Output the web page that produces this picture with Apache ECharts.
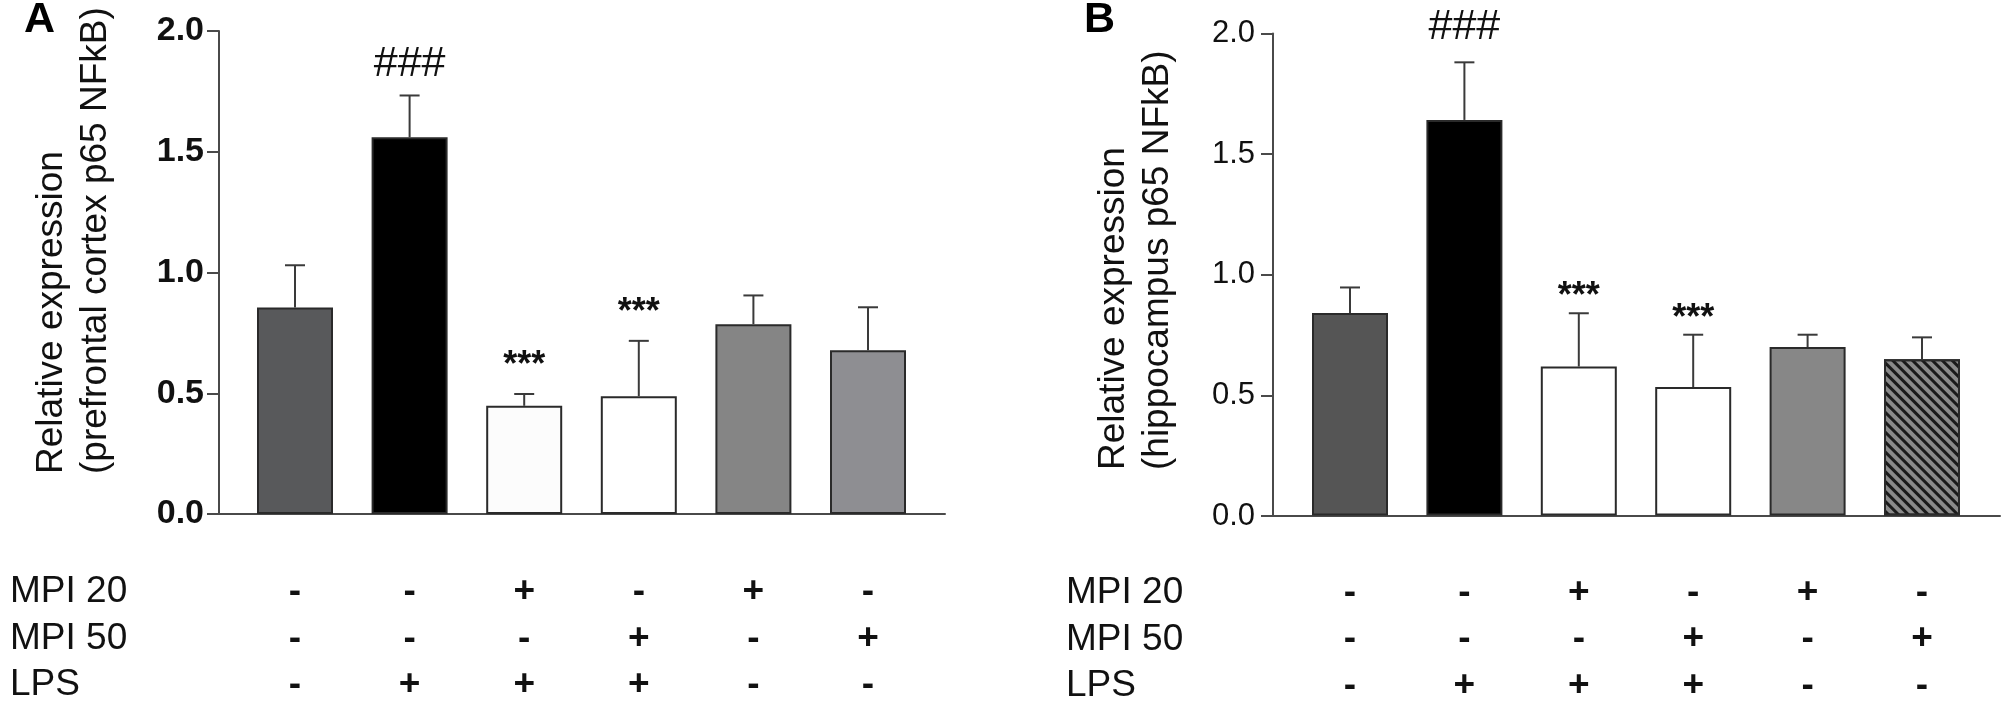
<!DOCTYPE html>
<html style="height: 100%">
<head>
    <meta charset="utf-8">
    <script type="text/javascript" src="https://cdn.jsdelivr.net/npm/echarts@6/dist/echarts.min.js"></script>
</head>
<body style="height: 100%; margin: 0; background: #fff">
<div id="container" style="height: 709px; width: 2002px"></div>
<script type="text/javascript">
    // groups, in plotting order
    var groups = ['Control', 'LPS', 'MPI 20 + LPS', 'MPI 50 + LPS', 'MPI 20', 'MPI 50'];

    // panel A: prefrontal cortex
    var meanA = [0.855, 1.560, 0.448, 0.488, 0.786, 0.678];
    var semA = [0.175, 0.173, 0.049, 0.229, 0.119, 0.178];
    var marksA = ['', '###', '***', '***', '', ''];

    // panel B: hippocampus
    var meanB = [0.840, 1.641, 0.618, 0.533, 0.699, 0.648];
    var semB = [0.106, 0.239, 0.221, 0.217, 0.051, 0.091];
    var marksB = ['', '###', '***', '***', '', ''];

    // treatment table under the bars
    var rowNames = ['MPI 20', 'MPI 50', 'LPS'];
    var mpi20 = ['-', '-', '+', '-', '+', '-'];
    var mpi50 = ['-', '-', '-', '+', '-', '+'];
    var lps = ['-', '+', '+', '+', '-', '-'];

    var yTicks = [0, 0.5, 1.0, 1.5, 2.0];

    var FONT = '"Liberation Sans", Arial, sans-serif';
    var AXIS = '#4a4a4a';
    var INK = '#111111';
    var TITLE_SIZE = 37;

    var colorsA = ['#58595b', '#000000', '#fcfcfc', '#ffffff', '#858585', '#8e8e92'];
    var colorsB = ['#555555', '#000000', '#ffffff', '#ffffff', '#878787', '#8a8a8a'];
    var hatch = {
        symbol: 'rect',
        symbolSize: 1,
        color: '#1a1a1a',
        dashArrayX: [1, 0],
        dashArrayY: [3, 3.4],
        rotation: Math.PI / 4
    };

    // width of a text line, so both title lines can start at the same point
    var measure = document.createElement('canvas').getContext('2d');
    function textWidth(s, size) {
        measure.font = size + 'px ' + FONT;
        return Math.ceil(measure.measureText(s).width);
    }

    var grid = [], xAxis = [], yAxis = [], series = [], graphic = [];

    function addPanel(p) {
        var g = grid.length;
        // grid for the bars, and a wider one only for the axis lines
        grid.push({left: p.barLeft, top: p.top, width: p.pitch * groups.length, height: p.height});
        grid.push({left: p.axisLeft, top: p.top, width: p.axisWidth, height: p.height});

        var xb = xAxis.length;
        xAxis.push({
            type: 'category', gridIndex: g, data: groups,
            axisLine: {show: false},
            axisTick: {alignWithLabel: true, length: 12, lineStyle: {color: AXIS, width: 2}},
            axisLabel: {
                interval: 0, margin: p.tableMargin,
                formatter: function (v, i) {
                    return [mpi20[i], mpi50[i], lps[i]].join('\n');
                },
                fontFamily: FONT, fontSize: 37, fontWeight: 'bold', lineHeight: 46.5, color: INK
            }
        });
        xAxis.push({
            type: 'value', gridIndex: g + 1, min: 0, max: 1,
            axisLine: {show: true, lineStyle: {color: AXIS, width: 2}},
            axisTick: {show: false}, axisLabel: {show: false}, splitLine: {show: false}
        });

        // title lines share a start point near the bottom of the axis
        var line1 = 'Relative expression';
        var line2 = '(' + p.region + ' p65 NFkB)';
        var w = Math.max(textWidth(line1, TITLE_SIZE), textWidth(line2, TITLE_SIZE));
        var mid = p.top + p.height / 2;
        var shift = Math.max(0, 2 * (mid + w / 2 - p.titleBottom));

        var yb = yAxis.length;
        yAxis.push({type: 'value', gridIndex: g, min: 0, max: 2, show: false});
        yAxis.push({
            type: 'value', gridIndex: g + 1, min: yTicks[0], max: yTicks[yTicks.length - 1], interval: 0.5,
            axisLine: {show: true, lineStyle: {color: AXIS, width: 2}},
            axisTick: {show: true, length: 12, lineStyle: {color: AXIS, width: 2}},
            axisLabel: {
                formatter: function (v) { return v.toFixed(1); },
                margin: p.labelMargin, fontFamily: FONT, fontSize: p.labelSize,
                fontWeight: p.labelWeight, color: INK
            },
            splitLine: {show: false},
            name: '{t|' + line1 + '}\n{t|' + line2 + '}',
            nameLocation: 'middle', nameRotate: 90, nameGap: p.nameGap,
            nameTextStyle: {
                fontFamily: FONT, fontSize: TITLE_SIZE, lineHeight: 44, color: INK,
                padding: [0, 0, 0, shift],
                rich: {t: {fontFamily: FONT, fontSize: TITLE_SIZE, lineHeight: 44, color: INK, width: w, align: 'left'}}
            }
        });

        series.push({
            type: 'bar', xAxisIndex: xb, yAxisIndex: yb, barWidth: 76,
            itemStyle: {borderColor: '#2a2a2a', borderWidth: 2},
            data: p.mean.map(function (v, i) {
                var st = {color: p.colors[i]};
                if (p.hatched === i) st.decal = hatch;
                return {value: v, itemStyle: st};
            }),
            silent: true, animation: false
        });

        series.push({
            type: 'custom', xAxisIndex: xb, yAxisIndex: yb, z: 5, clip: false,
            data: p.mean.map(function (v, i) { return [i, v, v + p.sem[i]]; }),
            renderItem: function (params, api) {
                var i = api.value(0);
                var top = api.coord([i, api.value(1)]);
                var cap = api.coord([i, api.value(2)]);
                var line = {stroke: '#3a3a3a', lineWidth: 2};
                var kids = [
                    {type: 'line', shape: {x1: top[0], y1: top[1], x2: cap[0], y2: cap[1]}, style: line},
                    {type: 'line', shape: {x1: cap[0] - 10, y1: cap[1], x2: cap[0] + 10, y2: cap[1]}, style: line}
                ];
                var m = p.marks[params.dataIndex];
                if (m) {
                    var isHash = m.charAt(0) === '#';
                    kids.push({
                        type: 'text',
                        style: {
                            text: m, x: cap[0], y: cap[1] - (isHash ? p.hashGap : p.starGap),
                            align: 'center', verticalAlign: 'middle',
                            fontFamily: FONT, fontSize: isHash ? 43 : 36,
                            fontWeight: isHash ? 'normal' : 'bold', fill: INK
                        }
                    });
                }
                return {type: 'group', children: kids};
            },
            silent: true, animation: false
        });

        // panel letter and table row names
        graphic.push({
            type: 'text', x: p.letterX, y: -1,
            style: {text: p.letter, fontFamily: FONT, fontSize: 43, fontWeight: 'bold', fill: '#000', verticalAlign: 'top'}
        });
        var axisY = p.top + p.height;
        rowNames.forEach(function (name, r) {
            graphic.push({
                type: 'text', x: p.rowX, y: axisY + p.tableMargin + 46.5 * (r + 0.5),
                style: {text: name, fontFamily: FONT, fontSize: 37, fill: INK, verticalAlign: 'middle'}
            });
        });
    }

    addPanel({
        letter: 'A', letterX: 24, rowX: 10, region: 'prefrontal cortex',
        mean: meanA, sem: semA, marks: marksA, colors: colorsA, hatched: -1,
        top: 31, height: 483, barLeft: 237.7, pitch: 114.6, axisLeft: 219, axisWidth: 726,
        labelSize: 34, labelWeight: 'bold', labelMargin: 15, nameGap: 101, titleBottom: 474,
        tableMargin: 55, hashGap: 31, starGap: 28
    });
    addPanel({
        letter: 'B', letterX: 1084, rowX: 1066, region: 'hippocampus',
        mean: meanB, sem: semB, marks: marksB, colors: colorsB, hatched: 5,
        top: 33.4, height: 482.6, barLeft: 1292.8, pitch: 114.4, axisLeft: 1273, axisWidth: 727,
        labelSize: 31, labelWeight: 'normal', labelMargin: 18, nameGap: 93, titleBottom: 470,
        tableMargin: 54, hashGap: 35, starGap: 16
    });

    var dom = document.getElementById('container');
    var myChart = echarts.init(dom);
    var option = {
        backgroundColor: '#ffffff',
        animation: false,
        grid: grid,
        xAxis: xAxis,
        yAxis: yAxis,
        series: series,
        graphic: graphic
    };
    myChart.setOption(option, true);
</script>
</body>
</html>
